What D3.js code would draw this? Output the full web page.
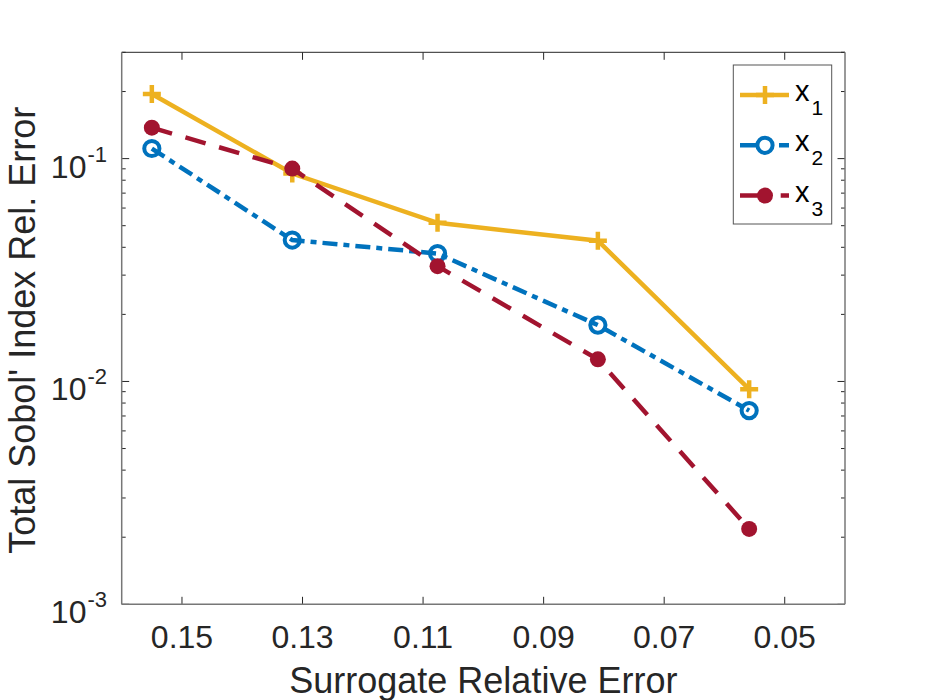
<!DOCTYPE html>
<html><head><meta charset="utf-8">
<script src="https://cdn.jsdelivr.net/npm/d3@7"></script>
<style>body{margin:0;background:#fff} svg{display:block}</style>
</head><body><svg id="c" width="933" height="700"></svg>
<script>
// ---- data ----
const xValues   = [0.1550, 0.1317, 0.1076, 0.0810, 0.0559];
const seriesX1  = [0.195, 0.0857, 0.0515, 0.0428, 0.00923];
const seriesX2  = [0.111, 0.0431, 0.0375, 0.0179, 0.0074];
const seriesX3  = [0.1377, 0.0902, 0.0329, 0.01257, 0.00218];
const seriesSubscripts = ["1", "2", "3"];
const xTickValues = [0.15, 0.13, 0.11, 0.09, 0.07, 0.05];
const xTickLabels = ["0.15", "0.13", "0.11", "0.09", "0.07", "0.05"];
const yMajorTicks = [1e-3, 1e-2, 1e-1];
const yTickExponents = ["-3", "-2", "-1"];
const xLabelText = "Surrogate Relative Error";
const yLabelText = "Total Sobol' Index Rel. Error";

// ---- layout ----
const L = 121.7, R = 845, T = 52.3, B = 604.3;
const FONT = "'Liberation Sans', Arial, Helvetica, sans-serif";
const TXT = "#262626";

const svg = d3.select("#c");
const x = d3.scaleLinear().domain([0.16, 0.04]).range([L, R]);
const y = d3.scaleLog().domain([1e-3, 0.3]).range([B, T]);

svg.append("rect").attr("x", L).attr("y", T).attr("width", R - L).attr("height", B - T).attr("fill", "#fff");

// ---- ticks ----
const tickG = svg.append("g").attr("stroke", TXT).attr("stroke-width", 1);
xTickValues.forEach(v => {
  const px = x(v);
  tickG.append("line").attr("x1", px).attr("x2", px).attr("y1", B).attr("y2", B - 7.5);
  tickG.append("line").attr("x1", px).attr("x2", px).attr("y1", T).attr("y2", T + 7.5);
});
y.ticks().concat([0.2, 0.3]).filter((v, i, a) => a.indexOf(v) === i && v <= 0.3 + 1e-12).forEach(v => {
  const major = Math.abs(Math.log10(v) - Math.round(Math.log10(v))) < 1e-9;
  const len = major ? 7.5 : 4;
  const py = y(v);
  tickG.append("line").attr("x1", L).attr("x2", L + len).attr("y1", py).attr("y2", py);
  tickG.append("line").attr("x1", R).attr("x2", R - len).attr("y1", py).attr("y2", py);
});

// ---- axis box ----
const boxG = svg.append("g").attr("fill", "none");
boxG.append("line").attr("x1", L).attr("x2", R).attr("y1", T).attr("y2", T).attr("stroke", TXT).attr("stroke-width", 1);
boxG.append("line").attr("x1", L).attr("x2", R).attr("y1", B).attr("y2", B).attr("stroke", "#777").attr("stroke-width", 1.5);
boxG.append("line").attr("x1", L).attr("x2", L).attr("y1", T).attr("y2", B).attr("stroke", "#777").attr("stroke-width", 1.5);
boxG.append("line").attr("x1", R).attr("x2", R).attr("y1", T).attr("y2", B).attr("stroke", "#777").attr("stroke-width", 1.5);

// ---- tick labels ----
svg.append("g").selectAll("text").data(xTickValues).join("text")
  .attr("x", d => x(d)).attr("y", B + 43.7)
  .attr("text-anchor", "middle").attr("font-family", FONT).attr("font-size", 32).attr("fill", TXT)
  .text((d, i) => xTickLabels[i]);

const yl = svg.append("g").selectAll("text").data(yMajorTicks).join("text")
  .attr("x", 107).attr("y", d => y(d) + 19)
  .attr("text-anchor", "end").attr("font-family", FONT).attr("fill", TXT);
yl.append("tspan").attr("font-size", 32).text("10");
yl.append("tspan").attr("font-size", 22).attr("dx", 1).attr("dy", -16).text((d, i) => yTickExponents[i]);

// ---- axis labels ----
svg.append("text").attr("x", (L + R) / 2).attr("y", 693).attr("text-anchor", "middle")
  .attr("font-family", FONT).attr("font-size", 36).attr("fill", TXT).text(xLabelText);
svg.append("text").attr("transform", `translate(35,${(T + B) / 2 + 2}) rotate(-90)`).attr("text-anchor", "middle")
  .attr("font-family", FONT).attr("font-size", 36).attr("fill", TXT).text(yLabelText);

// ---- series ----
const series = [
  { vals: seriesX1, color: "#EDB120", dash: null, marker: "plus", legDash: null },
  { vals: seriesX2, color: "#0072BD", dash: "15,6,6,6", marker: "circle", legDash: "17,22,10" },
  { vals: seriesX3, color: "#A2142F", dash: "21,14", marker: "dot", legDash: "20,20.7,8.3" }
];
const line = d3.line().x(d => x(d[0])).y(d => y(d[1]));

function drawMarker(g, kind, color, cx, cy) {
  if (kind === "plus") {
    g.append("path").attr("d", `M${cx - 9},${cy}H${cx + 9}M${cx},${cy - 9}V${cy + 9}`)
      .attr("stroke", color).attr("stroke-width", 4.5).attr("fill", "none");
  } else if (kind === "circle") {
    g.append("circle").attr("cx", cx).attr("cy", cy).attr("r", 7.6)
      .attr("stroke", color).attr("stroke-width", 4).attr("fill", "none");
  } else {
    g.append("circle").attr("cx", cx).attr("cy", cy).attr("r", 8).attr("fill", color);
  }
}

const plotG = svg.append("g");
series.forEach(s => {
  const pts = xValues.map((xv, i) => [xv, s.vals[i]]);
  plotG.append("path").attr("d", line(pts)).attr("fill", "none")
    .attr("stroke", s.color).attr("stroke-width", 4.5)
    .attr("stroke-dasharray", s.dash).attr("stroke-linejoin", "miter");
  pts.forEach(p => drawMarker(plotG, s.marker, s.color, x(p[0]), y(p[1])));
});

// ---- legend ----
const lg = svg.append("g");
lg.append("rect").attr("x", 733.3).attr("y", 65).attr("width", 98.4).attr("height", 159)
  .attr("fill", "#fff").attr("stroke", "#555").attr("stroke-width", 1);
series.forEach((s, i) => {
  const ry = 95 + i * 50.3;
  lg.append("line").attr("x1", 740).attr("x2", 789).attr("y1", ry).attr("y2", ry)
    .attr("stroke", s.color).attr("stroke-width", 4.5).attr("stroke-dasharray", s.legDash);
  drawMarker(lg, s.marker, s.color, 765, ry);
  const t = lg.append("text").attr("x", 795).attr("y", ry + 6).attr("font-family", FONT).attr("fill", "#000");
  t.append("tspan").attr("font-size", 29).text("x");
  t.append("tspan").attr("font-size", 21).attr("dx", 2).attr("dy", 14).text(seriesSubscripts[i]);
});
</script></body></html>
